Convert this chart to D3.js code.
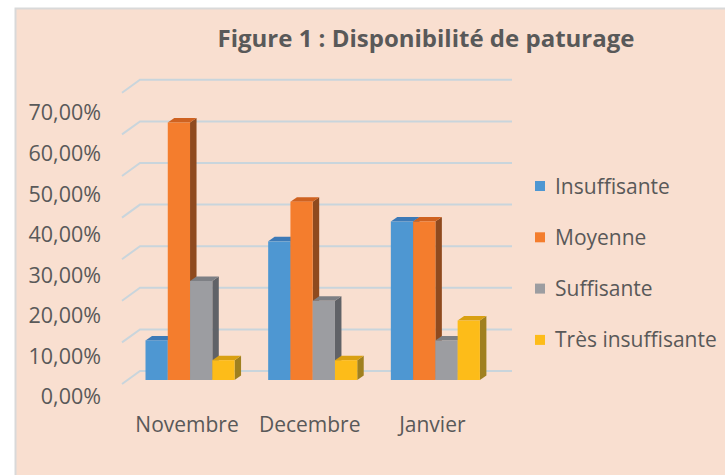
<!DOCTYPE html>
<html>
<head>
<meta charset="utf-8">
<script src="https://cdn.jsdelivr.net/npm/d3@7"></script>
<style>
  html, body { margin: 0; padding: 0; background: #fff; }
  svg { display: block; }
</style>
</head>
<body>
<svg id="chart" width="725" height="475"></svg>
<script>
const months = ['Novembre', 'Decembre', 'Janvier']
const levels = ['Insuffisante', 'Moyenne', 'Suffisante', 'Très insuffisante']
// shares per month, same order as months
const insuffisante = [0.0952, 0.3333, 0.3810]
const moyenne = [0.6190, 0.4286, 0.3810]
const suffisante = [0.2381, 0.1905, 0.0952]
const tresInsuffisante = [0.0476, 0.0476, 0.1429]
const yTicks = [0, 0.1, 0.2, 0.3, 0.4, 0.5, 0.6, 0.7]

const seriesValues = [insuffisante, moyenne, suffisante, tresInsuffisante]
const colors = {
  front: ['#4e97d2', '#f47d2d', '#9c9da1', '#fdbc19'],
  top:   ['#3d7ab7', '#cf6220', '#7d7f84', '#d9a012'],
  side:  ['#2f5f8f', '#8f4a1e', '#606267', '#a0801f']
}

const svg = d3.select('#chart')
const font = "'Open Sans', 'DejaVu Sans', sans-serif"
const txt = '#595959'

// BACKGROUND
svg.append('rect')
  .attr('x', 15.5).attr('y', 8.5).attr('width', 720).attr('height', 480)
  .attr('fill', '#f9dfd0').attr('stroke', '#d9d9d9').attr('stroke-width', 2)

// TITLE
svg.append('text')
  .attr('x', 426).attr('y', 47)
  .attr('text-anchor', 'middle')
  .attr('font-family', font).attr('font-weight', 700).attr('font-size', 24)
  .attr('fill', txt)
  .text('Figure 1 : Disponibilité de paturage')

// SCALES
const depth = { dx: 18, dy: 13 }      // wall depth
const bar = { dx: 6.5, dy: 4.5 }      // bar depth
const yBar = d3.scaleLinear().domain([0, 0.7]).range([380, 380 - 7 * 41.6])
const yWall = d3.scaleLinear().domain([0, 0.7]).range([371, 371 - 7 * 41.6])
const yLabel = d3.scaleLinear().domain([0, 0.7]).range([397, 113])
const x = d3.scaleBand().domain(months).range([128.7, 496.7]).paddingInner(0.274).paddingOuter(0.137)
const xs = d3.scaleBand().domain(levels).range([0, x.bandwidth()])

// GRIDLINES (back wall + left wall diagonals)
const grid = svg.append('g').attr('fill', 'none').attr('stroke', '#c9d5dc').attr('stroke-width', 2)
grid.selectAll('path').data(yTicks).join('path')
  .attr('d', d => `M${140 - depth.dx},${yWall(d) + depth.dy}L140,${yWall(d)}L512,${yWall(d)}`)

// Y AXIS LABELS
const loc = d3.formatLocale({ decimal: ',', thousands: ' ', grouping: [3], currency: ['', '€'] })
const fmt = loc.format('.2%')
const yAxis = d3.axisLeft(yLabel).tickValues(yTicks).tickFormat(fmt).tickSize(0).tickPadding(0)
svg.append('g').attr('transform', 'translate(101,0)').call(yAxis)
  .call(g => g.select('.domain').remove())
  .call(g => g.selectAll('text').attr('font-family', font).attr('font-size', 21.5).attr('fill', txt))

// BARS
const data = months.flatMap((m, i) => levels.map((l, j) => ({ month: m, level: l, j, value: seriesValues[j][i] })))
const bars = svg.append('g').selectAll('g').data(data).join('g')
bars.each(function (d) {
  const g = d3.select(this)
  const x0 = x(d.month) + xs(d.level)
  const w = xs.bandwidth()
  const y0 = yBar(0), y1 = yBar(d.value)
  g.append('path')
    .attr('d', `M${x0 + w},${y1}L${x0 + w + bar.dx},${y1 - bar.dy}L${x0 + w + bar.dx},${y0 - bar.dy}L${x0 + w},${y0}Z`)
    .attr('fill', colors.side[d.j])
  g.append('path')
    .attr('d', `M${x0},${y1}L${x0 + bar.dx},${y1 - bar.dy}L${x0 + w + bar.dx},${y1 - bar.dy}L${x0 + w},${y1}Z`)
    .attr('fill', colors.top[d.j])
  g.append('rect')
    .attr('x', x0).attr('y', y1).attr('width', w).attr('height', y0 - y1)
    .attr('fill', colors.front[d.j])
})

// X LABELS
svg.append('g').selectAll('text').data(months).join('text')
  .attr('x', d => x(d) + x.bandwidth() / 2 - 3)
  .attr('y', 432)
  .attr('text-anchor', 'middle')
  .attr('font-family', font).attr('font-size', 21).attr('fill', txt)
  .text(d => d)

// LEGEND
const legend = svg.append('g').selectAll('g').data(levels).join('g')
  .attr('transform', (d, i) => `translate(535,${186 + i * 51.3})`)
legend.append('rect').attr('x', 0).attr('y', -5).attr('width', 10).attr('height', 10)
  .attr('fill', (d, i) => colors.front[i])
legend.append('text').attr('x', 20).attr('y', 7.5)
  .attr('font-family', font).attr('font-size', 21).attr('fill', txt)
  .text(d => d)
</script>
</body>
</html>
